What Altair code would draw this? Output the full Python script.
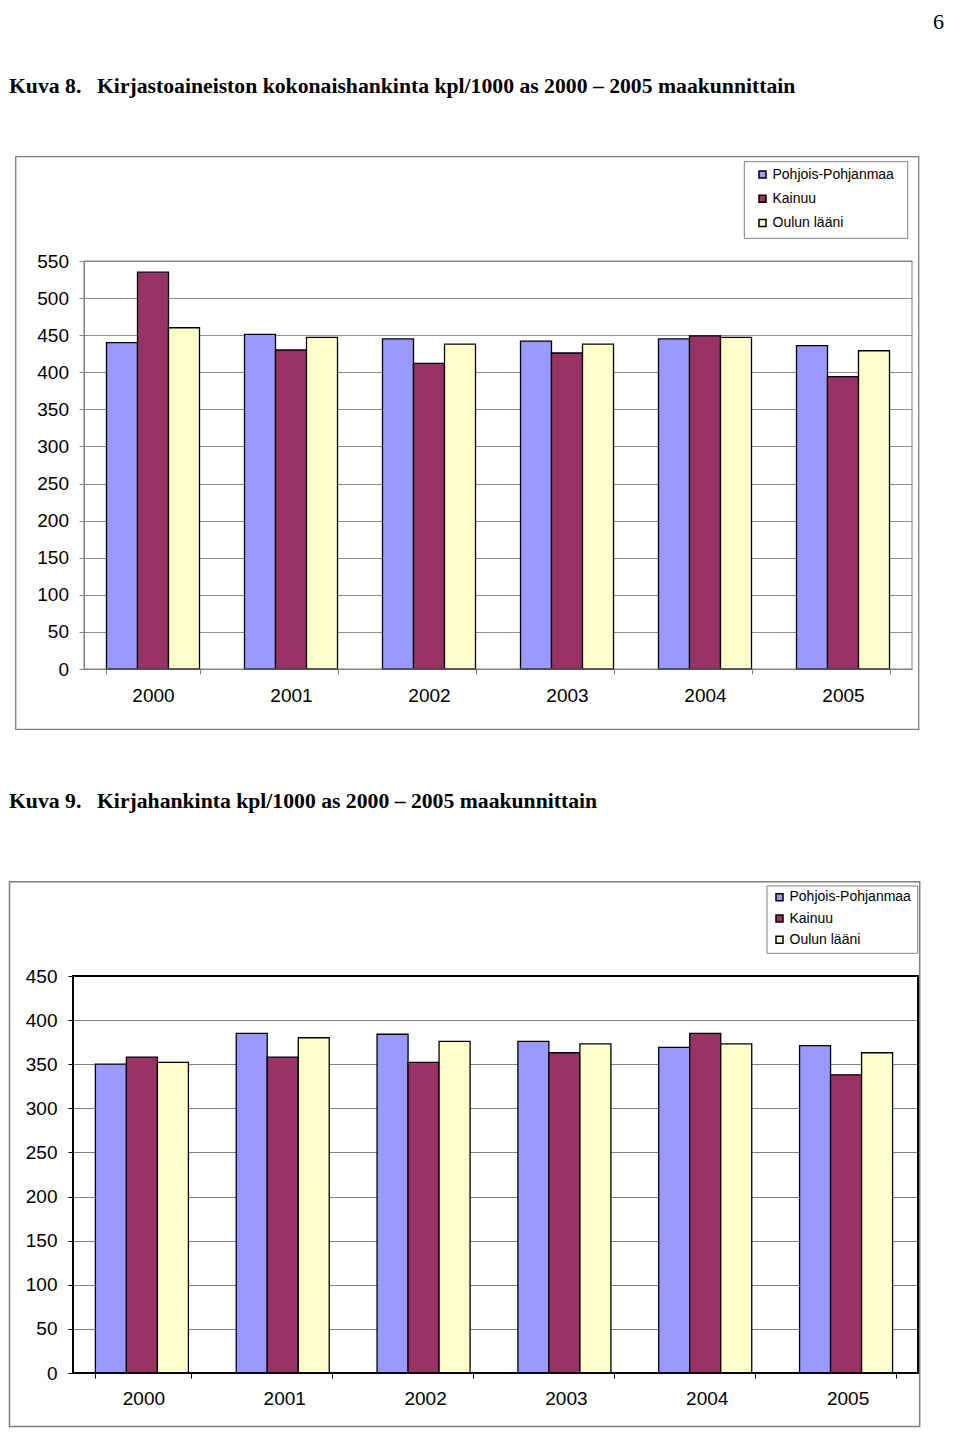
import altair as alt
import pandas as pd

# ---------------- data ----------------
years = ["2000", "2001", "2002", "2003", "2004", "2005"]
series = ["Pohjois-Pohjanmaa", "Kainuu", "Oulun lääni"]
colors = ["#9999FF", "#993366", "#FFFFCC"]

# Kuva 8: Kirjastoaineiston kokonaishankinta kpl/1000 as
k8_pohjois = [440, 451, 445, 442, 445, 436]
k8_kainuu = [535, 430, 412, 426, 449, 394]
k8_oulu = [460, 447, 438, 438, 447, 429]

# Kuva 9: Kirjahankinta kpl/1000 as
k9_pohjois = [350, 385, 384, 376, 369, 371]
k9_kainuu = [358, 358, 352, 363, 385, 338]
k9_oulu = [352, 380, 376, 373, 373, 363]

ticks8 = [0, 50, 100, 150, 200, 250, 300, 350, 400, 450, 500, 550]
ticks9 = [0, 50, 100, 150, 200, 250, 300, 350, 400, 450]

page_number = ["6"]
title8 = ["Kuva 8.", "Kirjastoaineiston kokonaishankinta kpl/1000 as 2000 – 2005 maakunnittain"]
title9 = ["Kuva 9.", "Kirjahankinta kpl/1000 as 2000 – 2005 maakunnittain"]

AXIS_FONT = "Liberation Sans"
SERIF = "Liberation Serif"


def table(a, b, c):
    rows = []
    for i, yr in enumerate(years):
        for s, vals in zip(series, (a, b, c)):
            rows.append({"Vuosi": yr, "Alue": s, "Arvo": vals[i]})
    return pd.DataFrame(rows)


def one_row():
    return pd.DataFrame({"k": [0]})


def text_layer(txt, x, y, **kw):
    return alt.Chart(pd.DataFrame({"t": [txt]})).mark_text(**kw).encode(
        x=alt.value(x), y=alt.value(y), text="t:N"
    )


def box(x1, x2, y1, y2, color, width):
    return alt.Chart(one_row()).mark_rect(
        fill="transparent", stroke=color, strokeWidth=width
    ).encode(x=alt.value(x1), x2=alt.value(x2), y=alt.value(y1), y2=alt.value(y2))


def panel(df, x_range, pad_in, pad_out, ymax, ticks, y_offset,
          axis_col, grid_col, lab_pad_y, lab_pad_x, leg_x, leg_y, row_pad):
    color = alt.Color(
        "Alue:N",
        sort=series,
        scale=alt.Scale(domain=series, range=colors),
        legend=alt.Legend(
            title=None, orient="none", legendX=leg_x, legendY=leg_y,
            direction="vertical", symbolType="square", symbolSize=49,
            symbolStrokeColor="black", symbolStrokeWidth=1.5,
            labelFont=AXIS_FONT, labelFontSize=14, labelColor="black",
            labelOffset=3, rowPadding=row_pad, padding=0,
        ),
    )
    if x_range is not None:
        x_scale = alt.Scale(range=x_range, paddingInner=pad_in, paddingOuter=pad_out)
    else:
        x_scale = alt.Scale(paddingInner=pad_in, paddingOuter=pad_out)
    bars = alt.Chart(df).mark_bar(stroke="black", strokeWidth=1.3).encode(
        x=alt.X(
            "Vuosi:N", sort=years, scale=x_scale,
            axis=alt.Axis(
                title=None, labelAngle=0, tickBand="extent", grid=False,
                domainColor=axis_col, tickColor=axis_col, tickSize=5,
                labelPadding=lab_pad_x, labelBaseline="middle",
            ),
        ),
        xOffset=alt.XOffset("Alue:N", sort=series,
                            scale=alt.Scale(paddingInner=0, paddingOuter=0)),
        y=alt.Y(
            "Arvo:Q", scale=alt.Scale(domain=[0, ymax], nice=False),
            axis=alt.Axis(
                title=None, values=ticks, offset=y_offset, grid=True,
                gridColor=grid_col, gridWidth=1, domainColor=axis_col,
                tickColor=axis_col, tickSize=5, labelPadding=lab_pad_y,
            ),
        ),
        color=color,
    )
    return bars


df8 = table(k8_pohjois, k8_kainuu, k8_oulu)
df9 = table(k9_pohjois, k9_kainuu, k9_oulu)

TITLE_STYLE = dict(font=SERIF, fontSize=21.7, fontWeight="bold",
                   align="left", baseline="alphabetic", color="black")

# ---------- Kuva 8 (group origin ~ page (72, 261)) ----------
W1, H1 = 839, 408
bars8 = panel(df8, [11, 839], 0.326, 0.163, 550, ticks8, -11,
              "#808080", "#8c8c8c", 10.5, 21, 682.5, -93.5, 10.3)
c1 = alt.layer(
    bars8,
    box(11, 839, 0, H1, "#808080", 1),
    box(-57.3, 845.7, -104.3, 468.3, "#7f7f7f", 1.3),
    box(671.3, 834.7, -99.3, -22.7, "#808080", 1),
    box(860, 877, -253, -225, "transparent", 0),
    text_layer(page_number[0], 871, -239, font=SERIF, fontSize=22,
               align="right", baseline="middle", color="black"),
    text_layer(title8[0], -64, -168.5, **TITLE_STYLE),
    text_layer(title8[1], 24, -168.5, **TITLE_STYLE),
).properties(width=W1, height=H1)

# ---------- Kuva 9 (group origin ~ page (72, 976)) ----------
W2, H2 = 845, 397
bars9 = panel(df9, None, 0.318, 0.159, 450, ticks9, 0,
              "black", "#808080", 11, 20, 699.5, -85.7, 7.2)
c2 = alt.layer(
    bars9,
    box(0, W2, 0, H2, "black", 2),
    box(-63.5, 846.7, -94.3, 450.5, "#7f7f7f", 1.5),
    box(694, 844.7, -90, -22.7, "#808080", 1),
    text_layer(title9[0], -64, -168.5, **TITLE_STYLE),
    text_layer(title9[1], 24, -168.5, **TITLE_STYLE),
).properties(width=W2, height=H2)

chart = alt.vconcat(c1, c2, spacing=307, bounds="flush").resolve_scale(
    color="independent"
).resolve_legend(color="independent").properties(padding=0).configure_view(
    strokeWidth=0
).configure_axis(
    labelFont=AXIS_FONT, labelFontSize=19, labelColor="black"
)

chart.save("out.html", embed_options={"renderer": "svg", "actions": False})
